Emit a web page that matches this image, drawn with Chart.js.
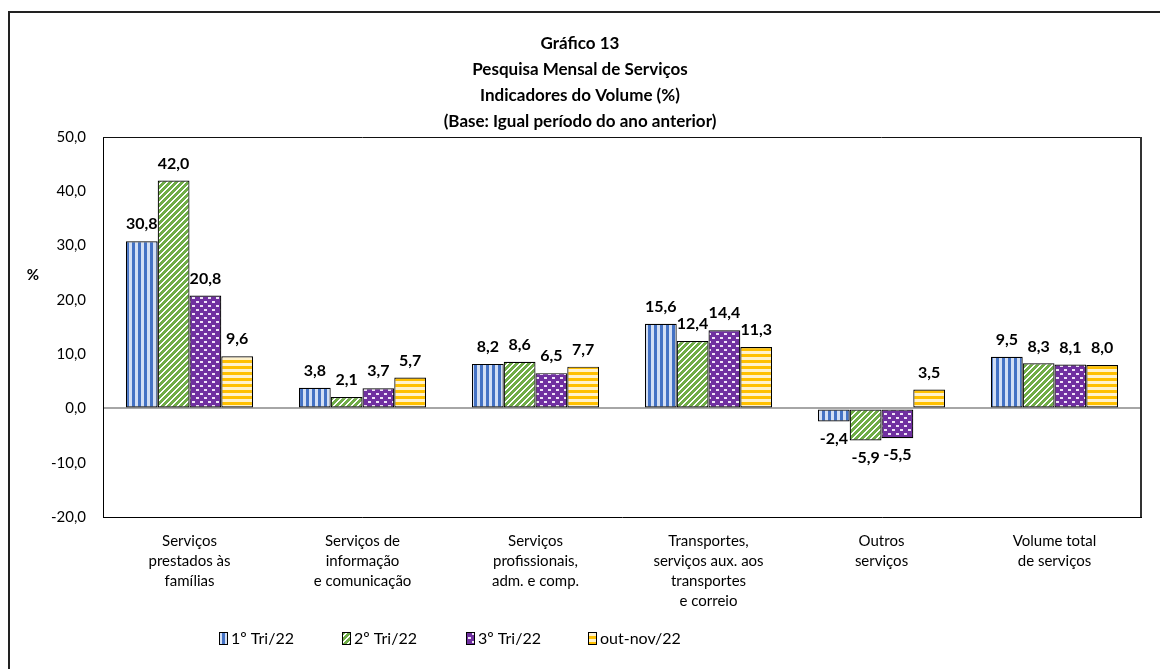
<!DOCTYPE html>
<html>
<head>
<meta charset="utf-8">
<script src="https://cdn.jsdelivr.net/npm/chart.js@4.4.0/dist/chart.umd.min.js"></script>
<style>
html, body { margin: 0; padding: 0; background: #fff; }
#moldura { position: absolute; left: 8px; top: 11px; width: 1160px; height: 669px; border-left: 2px solid #222; border-top: 2px solid #222; }
#caixa { position: absolute; left: 0; top: 0; width: 1160px; height: 669px; }
</style>
</head>
<body>
<div id="moldura"></div>
<div id="caixa"><canvas id="grafico"></canvas></div>
<script>
// Dados do gráfico
const titulos = ["Gráfico 13", "Pesquisa Mensal de Serviços", "Indicadores do Volume (%)", "(Base: Igual período do ano anterior)"];
const categorias = [
    ["Serviços", "prestados às", "famílias"],
    ["Serviços de", "informação", "e comunicação"],
    ["Serviços", "profissionais,", "adm. e comp."],
    ["Transportes,", "serviços aux. aos", "transportes", "e correio"],
    ["Outros", "serviços"],
    ["Volume total", "de serviços"]
];
const nomesSeries = ["1º Tri/22", "2º Tri/22", "3º Tri/22", "out-nov/22"];
const tri1 = [30.8, 3.8, 8.2, 15.6, -2.4, 9.5];
const tri2 = [42.0, 2.1, 8.6, 12.4, -5.9, 8.3];
const tri3 = [20.8, 3.7, 6.5, 14.4, -5.5, 8.1];
const outNov = [9.6, 5.7, 7.7, 11.3, 3.5, 8.0];
const eixoMin = -20;
const eixoMax = 50;
const eixoPasso = 10;

const fonte = "Lato, 'Open Sans', sans-serif";

function formata(v) {
    return v.toFixed(1).replace('.', ',');
}

// Preenchimentos com textura
function patron(tipo) {
    const c = document.createElement('canvas');
    const g = c.getContext('2d');
    if (tipo === 'vertical') {
        c.width = 6; c.height = 6;
        g.fillStyle = '#d3dff4'; g.fillRect(0, 0, 6, 6);
        g.fillStyle = '#4472c4'; g.fillRect(0, 0, 3, 6);
    } else if (tipo === 'diagonal') {
        c.width = 6; c.height = 6;
        for (let x = 0; x < 6; x++) {
            for (let y = 0; y < 6; y++) {
                g.fillStyle = ((x + y) % 6 < 2) ? '#ffffff' : '#70ad47';
                g.fillRect(x, y, 1, 1);
            }
        }
    } else if (tipo === 'pontos') {
        c.width = 8; c.height = 8;
        g.fillStyle = '#7030a0'; g.fillRect(0, 0, 8, 8);
        g.fillStyle = '#efe4f7';
        g.fillRect(0, 1, 3, 2);
        g.fillRect(4, 5, 3, 2);
    } else {
        c.width = 6; c.height = 6;
        g.fillStyle = '#fff2cc'; g.fillRect(0, 0, 6, 6);
        g.fillStyle = '#ffc000'; g.fillRect(0, 0, 6, 3);
    }
    return g.createPattern(c, 'repeat');
}

const preenchimentos = [patron('vertical'), patron('diagonal'), patron('pontos'), patron('horizontal')];

// Plugin para titulo, moldura, rotulos e legenda
const extras = {
    id: 'extras',
    afterDraw(chart) {
        const ctx = chart.ctx;
        const area = chart.chartArea;
        ctx.save();

        // titulo
        ctx.fillStyle = '#000';
        ctx.font = "bold 17px " + fonte;
        ctx.textAlign = 'center';
        ctx.textBaseline = 'middle';
        titulos.forEach((t, i) => ctx.fillText(t, 580, 44 + i * 26));

        // moldura da area de plotagem
        ctx.strokeStyle = '#111';
        ctx.lineWidth = 1;
        ctx.beginPath();
        ctx.moveTo(area.left, area.top + 0.5);
        ctx.lineTo(area.right, area.top + 0.5);
        ctx.stroke();
        ctx.strokeStyle = '#333';
        ctx.lineWidth = 2;
        ctx.beginPath();
        ctx.moveTo(area.right, area.top);
        ctx.lineTo(area.right, area.bottom);
        ctx.stroke();

        // simbolo do eixo
        ctx.font = "bold 15px " + fonte;
        ctx.textAlign = 'center';
        ctx.fillText('%', 33, 275);

        // rotulos de dados
        ctx.font = "bold 16px " + fonte;
        chart.data.datasets.forEach((ds, i) => {
            const meta = chart.getDatasetMeta(i);
            meta.data.forEach((bar, j) => {
                const v = ds.data[j];
                if (v >= 0) {
                    ctx.textBaseline = 'bottom';
                    ctx.fillText(formata(v), bar.x, bar.y - 9);
                } else {
                    ctx.textBaseline = 'top';
                    ctx.fillText(formata(v), bar.x, bar.y + 9);
                }
            });
        });

        // legenda
        ctx.font = "16px " + fonte;
        ctx.textAlign = 'left';
        ctx.textBaseline = 'middle';
        const xs = [219, 342, 466, 588];
        chart.data.datasets.forEach((ds, i) => {
            ctx.fillStyle = ds.backgroundColor;
            ctx.fillRect(xs[i], 632, 8, 12);
            ctx.strokeStyle = '#000';
            ctx.lineWidth = 1;
            ctx.strokeRect(xs[i] + 0.5, 632.5, 8, 12);
            ctx.fillStyle = '#000';
            ctx.fillText(ds.label, xs[i] + 12, 639);
        });

        ctx.restore();
    }
};

const series = [tri1, tri2, tri3, outNov];

const config = {
    type: 'bar',
    data: {
        labels: categorias,
        datasets: series.map((s, i) => ({
            label: nomesSeries[i],
            data: s,
            backgroundColor: preenchimentos[i],
            borderColor: '#000',
            borderWidth: 1.2,
            borderSkipped: false,
            barPercentage: 1,
            categoryPercentage: 0.735
        }))
    },
    options: {
        responsive: true,
        maintainAspectRatio: false,
        animation: false,
        layout: { padding: { left: 0, right: 19, top: 137, bottom: 0 } },
        plugins: {
            legend: { display: false },
            title: { display: false },
            tooltip: { enabled: false }
        },
        scales: {
            x: {
                afterFit: (s) => { s.height = 152; },
                grid: { display: false },
                border: { display: true, color: '#000', width: 1 },
                ticks: {
                    color: '#000',
                    font: { family: fonte, size: 15, lineHeight: '20px' },
                    padding: 6,
                    maxRotation: 0,
                    autoSkip: false
                }
            },
            y: {
                min: eixoMin,
                max: eixoMax,
                afterFit: (s) => { s.width = 103; },
                grid: {
                    drawTicks: false,
                    lineWidth: 2,
                    color: (c) => (c.tick && c.tick.value === 0) ? '#a6a6a6' : 'rgba(0,0,0,0)'
                },
                border: { display: true, color: '#000', width: 1 },
                ticks: {
                    stepSize: eixoPasso,
                    color: '#000',
                    font: { family: fonte, size: 15 },
                    padding: 17,
                    callback: (v) => formata(v)
                }
            }
        }
    },
    plugins: [extras]
};

new Chart(document.getElementById('grafico'), config);
</script>
</body>
</html>
